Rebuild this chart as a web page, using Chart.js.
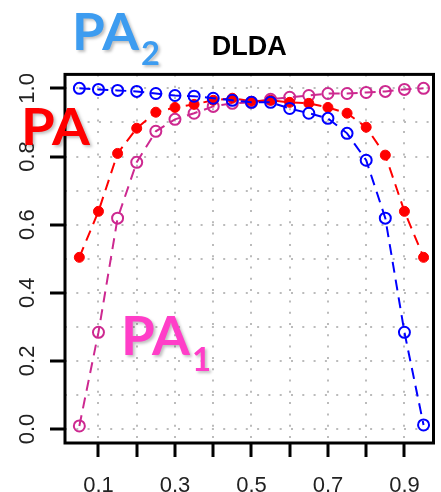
<!DOCTYPE html>
<html>
<head>
<meta charset="utf-8">
<script src="https://cdn.jsdelivr.net/npm/chart.js@4.4.1/dist/chart.umd.min.js"></script>
<style>
html, body { margin: 0; padding: 0; background: #fff; overflow: hidden; }
#wrap { position: relative; width: 441px; height: 492px; }
.tag { position: absolute; font-family: Lato, "Liberation Sans", sans-serif; font-weight: 700;
       line-height: 1; white-space: nowrap; text-shadow: 2px 2px 3px rgba(0,0,0,0.25);
       transform-origin: left top; }
.tag sub { vertical-align: baseline; position: relative; }
</style>
</head>
<body>
<div id="wrap">
  <canvas id="chart" width="441" height="492"></canvas>
  <div class="tag" style="left:72px;top:4px;font-size:52px;color:#3d9cf0;transform:scaleX(1.02)">PA<sub style="font-size:32px;top:15px;margin-left:2px">2</sub></div>
  <div class="tag" style="left:21px;top:99px;font-size:52px;color:#ff0000;transform:scaleX(1.05)">PA</div>
  <div class="tag" style="left:121px;top:308px;font-size:53px;color:#ff3ec8;transform:scaleX(1.03)">PA<sub style="font-size:32px;top:16px;margin-left:2px">1</sub></div>
</div>
<script>
// cut-off values (x) and the three accuracies
var cutoffs = [0.05, 0.10, 0.15, 0.20, 0.25, 0.30, 0.35, 0.40, 0.45, 0.50,
               0.55, 0.60, 0.65, 0.70, 0.75, 0.80, 0.85, 0.90, 0.95];
var pa2 = [1.000, 0.997, 0.994, 0.991, 0.985, 0.979, 0.977, 0.971, 0.965, 0.959,
           0.959, 0.941, 0.927, 0.912, 0.868, 0.789, 0.619, 0.284, 0.012];
var pa  = [0.504, 0.639, 0.809, 0.883, 0.930, 0.944, 0.953, 0.965, 0.971, 0.962,
           0.965, 0.959, 0.956, 0.944, 0.927, 0.886, 0.804, 0.639, 0.504];
var pa1 = [0.009, 0.284, 0.619, 0.783, 0.874, 0.909, 0.927, 0.947, 0.956, 0.959,
           0.968, 0.974, 0.979, 0.985, 0.985, 0.988, 0.991, 0.997, 1.000];

var xTicks = [0.1, 0.2, 0.3, 0.4, 0.5, 0.6, 0.7, 0.8, 0.9];
var xTickLabels = ['0.1', '', '0.3', '', '0.5', '', '0.7', '', '0.9'];
var yTicks = [0, 0.1, 0.2, 0.3, 0.4, 0.5, 0.6, 0.7, 0.8, 0.9, 1.0];
var yTickLabels = ['0.0', '', '0.2', '', '0.4', '', '0.6', '', '0.8', '', '1.0'];

function points(ys) {
	var out = [];
	for (var i = 0; i < cutoffs.length; i++) out.push({x: cutoffs[i], y: ys[i]});
	return out;
}

var tickFont = {family: '"Liberation Sans", Arial, sans-serif', size: 22};
var dotted = [2, 9.3];

// R style box around the plot region
var boxPlugin = {
	id: 'box',
	afterDraw: function(chart) {
		var a = chart.chartArea, c = chart.ctx;
		c.save();
		c.lineWidth = 3;
		c.strokeStyle = '#000';
		c.strokeRect(a.left, a.top, a.right - a.left, a.bottom - a.top);
		c.restore();
	}
};

var datasets = [
	{
		label: 'PA2',
		data: points(pa2),
		borderColor: '#0000ff',
		borderWidth: 2,
		borderDash: [11, 7],
		pointRadius: 5.5,
		pointBorderWidth: 2,
		pointBorderColor: '#0000ff',
		pointBackgroundColor: 'rgba(0,0,0,0)',
		order: 1
	},
	{
		label: 'PA',
		data: points(pa),
		borderColor: '#ff0000',
		borderWidth: 2,
		borderDash: [11, 7],
		pointRadius: 5,
		pointBorderWidth: 1,
		pointBorderColor: '#ff0000',
		pointBackgroundColor: '#ff0000',
		order: 2
	},
	{
		label: 'PA1',
		data: points(pa1),
		borderColor: '#cd2990',
		borderWidth: 2,
		borderDash: [11, 7],
		pointRadius: 5.5,
		pointBorderWidth: 2,
		pointBorderColor: '#cd2990',
		pointBackgroundColor: 'rgba(0,0,0,0)',
		order: 3
	}
];

var ctx = document.getElementById('chart').getContext('2d');
var chart = new Chart(ctx, {
	type: 'line',
	data: {datasets: datasets},
	plugins: [boxPlugin],
	options: {
		responsive: false,
		animation: false,
		layout: {padding: {left: 0, right: 5, top: 0, bottom: 0}},
		plugins: {
			legend: {display: false},
			tooltip: {enabled: false},
			title: {
				display: true,
				text: 'DLDA',
				fullSize: false,
				color: '#000',
				font: {family: '"Liberation Sans", Arial, sans-serif', size: 27, weight: 'bold'},
				padding: {top: 31, bottom: 11}
			}
		},
		scales: {
			x: {
				type: 'linear',
				min: 0.0125,
				max: 0.976,
				afterBuildTicks: function(s) { s.ticks = xTicks.map(function(v) { return {value: v}; }); },
				afterFit: function(s) { s.height = 49; s.paddingLeft = 0; s.paddingRight = 0; },
				ticks: {
					autoSkip: false,
					maxRotation: 0,
					minRotation: 0,
					padding: 16,
					color: '#222',
					font: tickFont,
					callback: function(v, i) { return xTickLabels[i]; }
				},
				grid: {color: '#bbb', lineWidth: 2, tickLength: 14, tickWidth: 3, tickColor: '#000'},
				border: {display: false, dash: dotted}
			},
			y: {
				type: 'linear',
				min: -0.041,
				max: 1.041,
				afterBuildTicks: function(s) { s.ticks = yTicks.map(function(v) { return {value: v}; }); },
				afterFit: function(s) { s.width = 65; s.paddingTop = 0; s.paddingBottom = 0; },
				ticks: {
					minRotation: 90,
					maxRotation: 90,
					crossAlign: 'center',
					padding: 7,
					color: '#222',
					font: tickFont,
					callback: function(v, i) { return yTickLabels[i]; }
				},
				grid: {
					color: '#bbb',
					lineWidth: 2,
					tickLength: 15,
					tickWidth: 3,
					tickColor: function(c) {
						return yTickLabels[c.index] ? '#000' : 'rgba(0,0,0,0)';
					}
				},
				border: {display: false, dash: dotted}
			}
		}
	}
});
</script>
</body>
</html>
